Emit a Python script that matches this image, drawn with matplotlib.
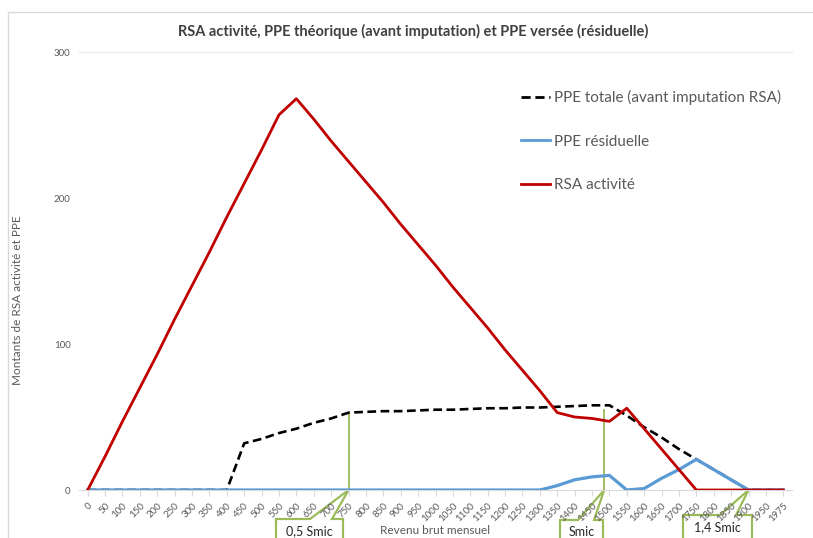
import matplotlib
matplotlib.use("Agg")
import matplotlib.pyplot as plt
from matplotlib.patches import Polygon, Rectangle

# revenu brut mensuel (categories)
categories = ["0", "50", "100", "150", "200", "250", "300", "350", "400", "450",
              "500", "550", "600", "650", "700", "750", "800", "850", "900", "950",
              "1000", "1050", "1100", "1150", "1200", "1250", "1300", "1350", "1400", "1450",
              "1500", "1550", "1600", "1650", "1700", "1750", "1800", "1850", "1900", "1950",
              "1975"]

ppe_totale = [0, 0, 0, 0, 0, 0, 0, 0, 0, 32,
              35, 39, 42, 46, 49, 53, 53.5, 54, 54, 54.5,
              55, 55, 55.5, 56, 56, 56.5, 56.5, 57, 57.5, 58,
              58, 51, 43, 36, 28, 21, 14, 7, 0, 0,
              0]

ppe_residuelle = [0, 0, 0, 0, 0, 0, 0, 0, 0, 0,
                  0, 0, 0, 0, 0, 0, 0, 0, 0, 0,
                  0, 0, 0, 0, 0, 0, 0, 3, 7, 9,
                  10, 0, 1, 8, 14, 21, 14, 7, 0, 0,
                  0]

rsa_activite = [0, 23, 47, 70, 93, 117, 140, 163, 187, 210,
                233, 257, 268, 254, 239, 225, 211, 197, 182, 168,
                154, 139, 125, 111, 96, 82, 68, 53, 50, 49,
                47, 56, 42, 28, 14, 0, 0, 0, 0, 0,
                0]

# callouts: label, category position, height of the marker line
smic_labels = ["0,5 Smic", "Smic", "1,4 Smic"]
smic_pos = [15, 29.7, 38]
smic_height = [53, 55, 0]

W, H = 813, 538
GREEN = "#9BBB59"
GREY_TXT = "#595959"

plt.rcParams["font.family"] = ["Lato", "DejaVu Sans"]

fig = plt.figure(figsize=(W / 100, H / 100), dpi=100)
ax = fig.add_axes([79 / W, 1 - 490 / H, (792 - 79) / W, (490 - 52) / H], zorder=1)
ax.patch.set_alpha(0)

x = list(range(len(categories)))
ax.plot(x, ppe_totale, color="black", lw=1.9, ls=(0, (3.3, 1.7)), zorder=2,
        label="PPE totale (avant imputation RSA)")
ax.plot(x, ppe_residuelle, color="#5B9BD5", lw=2.3, zorder=3, label="PPE résiduelle")
ax.plot(x, rsa_activite, color="#C00000", lw=2.0, zorder=4, label="RSA activité")

for p, h in zip(smic_pos, smic_height):
    if h > 0:
        ax.plot([p, p], [0, h], color=GREEN, lw=1.3, zorder=1)

ax.set_xlim(-0.5, len(categories) - 0.5)
ax.set_ylim(0, 300)
ax.set_yticks([0, 100, 200, 300])
ax.set_xticks(x)
ax.set_xticklabels(categories, rotation=45, ha="right", va="top",
                   rotation_mode="anchor", fontsize=7, color=GREY_TXT)
ax.tick_params(axis="x", length=4, color="#D9D9D9", pad=4)
ax.tick_params(axis="y", length=0, labelsize=7, labelcolor=GREY_TXT, pad=6)
for s in ["top", "right", "left"]:
    ax.spines[s].set_visible(False)
ax.spines["bottom"].set_color("#D9D9D9")
ax.axhline(300, color="#EDEDED", lw=1, zorder=0, clip_on=False)

leg = ax.legend(loc="upper left", bbox_to_anchor=(0.6, 0.945), frameon=False,
                fontsize=11, labelspacing=1.95, handlelength=1.9, handletextpad=0.3)
for t in leg.get_texts():
    t.set_color(GREY_TXT)
for h in leg.get_lines():
    h.set_linewidth(2)

fig.text(413 / W, 1 - 31 / H,
         "RSA activité, PPE théorique (avant imputation) et PPE versée (résiduelle)",
         ha="center", va="center", fontsize=10.5, fontweight="bold", color="#404040")
fig.text(18 / W, 1 - 300 / H, "Montants de RSA activité et PPE", rotation=90,
         ha="center", va="center", fontsize=8.5, color=GREY_TXT)
fig.text(435 / W, 1 - 530 / H, "Revenu brut mensuel", ha="center", va="center",
         fontsize=8.5, color=GREY_TXT)

# chart border
fig.patches.append(Rectangle((8 / W, -0.05), 1.0, 1 - 12 / H + 0.05,
                             transform=fig.transFigure, fill=False,
                             edgecolor="#D9D9D9", lw=1, zorder=0))

# callout boxes (pixel layout: left, right, top, wedge start, wedge end)
boxes = [(276, 343, 519, 310, 332), (560, 603, 520, 578, 594), (683, 752, 515, 720, 736)]
inv = fig.transFigure.inverted()
for (l, r, t, w0, w1), lab, p in zip(boxes, smic_labels, smic_pos):
    tip = inv.transform(ax.transData.transform((p, 0)))
    pts = [(l, 560), (l, t), (w0, t), None, (w1, t), (r, t), (r, 560)]
    poly = []
    for pt in pts:
        if pt is None:
            poly.append(tuple(tip))
        else:
            poly.append((pt[0] / W, 1 - pt[1] / H))
    fig.patches.append(Polygon(poly, closed=False, transform=fig.transFigure,
                               facecolor="white", edgecolor=GREEN, lw=1.6, zorder=0.5))
    fig.text((l + r) / 2 / W, 1 - (t + 12) / H, lab, ha="center", va="center",
             fontsize=9, color="#262626", zorder=6)

plt.savefig("out.png", dpi=100)
